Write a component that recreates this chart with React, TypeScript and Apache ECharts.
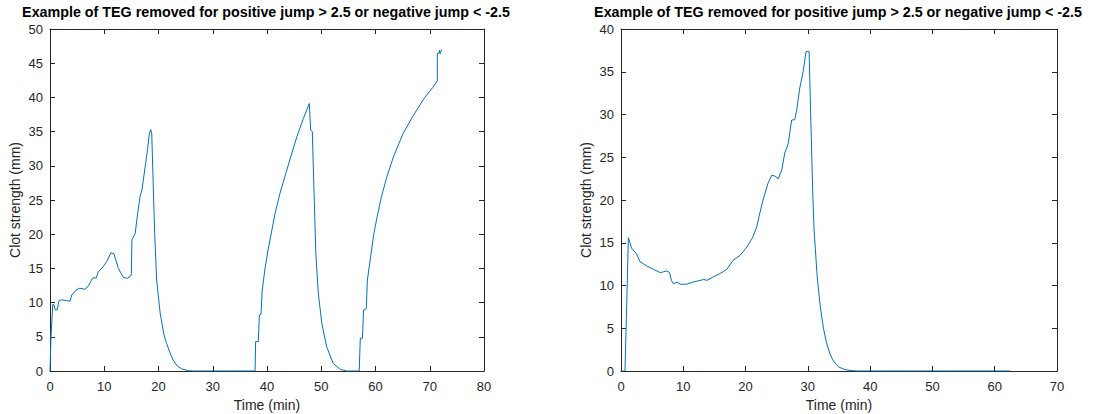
import React, { useEffect, useRef } from "react";
import * as echarts from "echarts";

const titleText = "Example of TEG removed for positive jump > 2.5 or negative jump < -2.5";
const xLabel = "Time (min)";
const yLabel = "Clot strength (mm)";

const leftTime = [0, 0.18, 0.5, 0.65, 0.98, 1.35, 1.66, 2.15, 3.07, 3.7, 4.0, 4.9, 5.5, 6.45, 7.07, 7.86, 8.5, 8.9, 9.8, 10.45, 11.24, 11.8, 12.6, 13.5, 14.25, 14.9, 15.0, 15.1, 15.7, 16.0, 16.6, 16.95, 17.2, 17.6, 18.0, 18.3, 18.55, 18.75, 19.0, 19.3, 19.66, 20.3, 21.0, 21.5, 22.2, 22.7, 23.5, 24.3, 25.5, 26.5, 37.8, 37.9, 38.4, 38.6, 38.9, 39.1, 39.6, 40.2, 40.9, 41.5, 42.4, 43.3, 44.2, 45.5, 46.7, 47.8, 48.05, 48.35, 48.66, 49.0, 49.45, 50.1, 51.0, 52.2, 53.5, 54.7, 57.0, 57.2, 57.6, 57.8, 58.3, 58.5, 59.1, 59.7, 60.3, 61.1, 62.1, 63.3, 65.1, 67.0, 69.0, 70.5, 71.4, 71.4, 71.7, 71.8, 71.9, 72.2];
const leftStrength = [0, 5.0, 9.65, 9.8, 8.9, 9.0, 10.3, 10.4, 10.3, 10.2, 11.1, 11.9, 12.1, 11.95, 12.4, 13.6, 13.6, 14.5, 15.25, 16.0, 17.3, 17.1, 15.0, 13.7, 13.55, 13.9, 14.2, 19.2, 20.1, 22.1, 25.5, 26.5, 27.9, 30.2, 32.5, 34.6, 35.3, 34.8, 28.0, 20.0, 13.3, 8.5, 5.3, 4.0, 2.5, 1.6, 0.7, 0.3, 0.05, 0, 0, 4.3, 4.3, 8.2, 8.3, 11.7, 14.8, 17.7, 20.6, 23.1, 26.0, 28.4, 30.85, 34.25, 36.9, 39.1, 35.2, 35.0, 26.5, 17.2, 11.4, 7.0, 3.55, 1.1, 0.25, 0, 0, 4.8, 4.8, 8.9, 9.1, 13.3, 16.7, 20.1, 22.55, 25.5, 28.4, 31.3, 34.75, 37.4, 39.9, 41.4, 42.4, 46.4, 46.5, 46.9, 46.4, 47.0];

const rightTime = [0.1, 0.64, 0.91, 1.18, 1.71, 2.5, 3.05, 4.1, 5.2, 6.3, 6.8, 7.35, 7.8, 8.1, 8.4, 9.04, 9.5, 10.5, 11.6, 12.7, 13.3, 13.8, 14.8, 15.9, 17.0, 18.0, 19.1, 20.2, 21.2, 21.8, 22.3, 22.8, 23.6, 24.2, 24.7, 25.25, 25.8, 26.3, 26.85, 27.4, 27.9, 28.2, 28.7, 29.25, 29.7, 30.2, 30.45, 30.8, 31.0, 31.5, 32.0, 32.5, 33.0, 33.5, 34.0, 34.5, 35.0, 36.0, 37.0, 38.0, 62.5];
const rightStrength = [0, 0, 7.5, 15.6, 14.35, 13.7, 12.8, 12.3, 11.9, 11.5, 11.6, 11.7, 11.5, 10.6, 10.2, 10.4, 10.15, 10.15, 10.4, 10.6, 10.7, 10.6, 11.0, 11.4, 11.9, 12.95, 13.5, 14.5, 15.7, 16.9, 18.5, 20.0, 21.95, 22.9, 22.8, 22.5, 23.5, 25.5, 26.6, 29.35, 29.4, 30.5, 33.1, 35.0, 37.35, 37.35, 30.1, 20.4, 16.5, 11.0, 7.5, 5.0, 3.3, 2.1, 1.3, 0.8, 0.45, 0.15, 0.05, 0, 0];

const leftXMax = 80;
const leftYMax = 50;
const rightXMax = 70;
const rightYMax = 40;

const FONT = "'Liberation Sans', Arial, Helvetica, sans-serif";
const AX = "#262626";
const LINE = "#0072BD";

function zip(xs: number[], ys: number[]) {
  return xs.map((x, i) => [x, ys[i]]);
}

function valueAxis(gridIndex: number, max: number, position: string, labeled: boolean, name: string, isX: boolean) {
  const a: any = {
    type: "value",
    gridIndex,
    min: 0,
    max,
    interval: isX ? 10 : 5,
    position,
    axisLine: { show: true, onZero: false, lineStyle: { color: AX, width: 1 } },
    axisTick: { show: true, inside: true, length: 5, lineStyle: { color: AX } },
    splitLine: { show: false },
    axisLabel: { show: labeled, color: AX, fontSize: 13, fontFamily: FONT, margin: isX ? 9 : 7 },
  };
  if (labeled) {
    a.name = name;
    a.nameLocation = "middle";
    a.nameGap = isX ? 27 : 28;
    a.nameTextStyle = { color: AX, fontSize: 14, fontFamily: FONT };
  }
  return a;
}

export default function App() {
  const ref = useRef<HTMLDivElement>(null);
  useEffect(() => {
    if (!ref.current) return;
    const chart = echarts.init(ref.current, undefined, { renderer: "svg" });
    const titleStyle = { fontSize: 14.3, fontWeight: "bold", color: "#000", fontFamily: FONT };
    chart.setOption({
      animation: false,
      backgroundColor: "#ffffff",
      title: [
        { text: titleText, left: 266, top: 5, textAlign: "center", padding: 0, textStyle: titleStyle },
        { text: titleText, left: 838, top: 5, textAlign: "center", padding: 0, textStyle: titleStyle },
      ],
      grid: [
        { left: 50, top: 29, width: 434, height: 342, outerBoundsMode: "none", containLabel: false },
        { left: 621, top: 29, width: 436, height: 342, outerBoundsMode: "none", containLabel: false },
      ],
      xAxis: [
        valueAxis(0, leftXMax, "bottom", true, xLabel, true),
        valueAxis(0, leftXMax, "top", false, "", true),
        valueAxis(1, rightXMax, "bottom", true, xLabel, true),
        valueAxis(1, rightXMax, "top", false, "", true),
      ],
      yAxis: [
        valueAxis(0, leftYMax, "left", true, yLabel, false),
        valueAxis(0, leftYMax, "right", false, "", false),
        valueAxis(1, rightYMax, "left", true, yLabel, false),
        valueAxis(1, rightYMax, "right", false, "", false),
      ],
      series: [
        {
          type: "line",
          xAxisIndex: 0,
          yAxisIndex: 0,
          data: zip(leftTime, leftStrength),
          showSymbol: false,
          smooth: false,
          lineStyle: { color: LINE, width: 1 },
        },
        {
          type: "line",
          xAxisIndex: 2,
          yAxisIndex: 2,
          data: zip(rightTime, rightStrength),
          showSymbol: false,
          smooth: false,
          lineStyle: { color: LINE, width: 1 },
        },
      ],
    });
    return () => chart.dispose();
  }, []);
  return <div ref={ref} style={{ position: "fixed", left: 0, top: 0, width: 1094, height: 414 }} />;
}
